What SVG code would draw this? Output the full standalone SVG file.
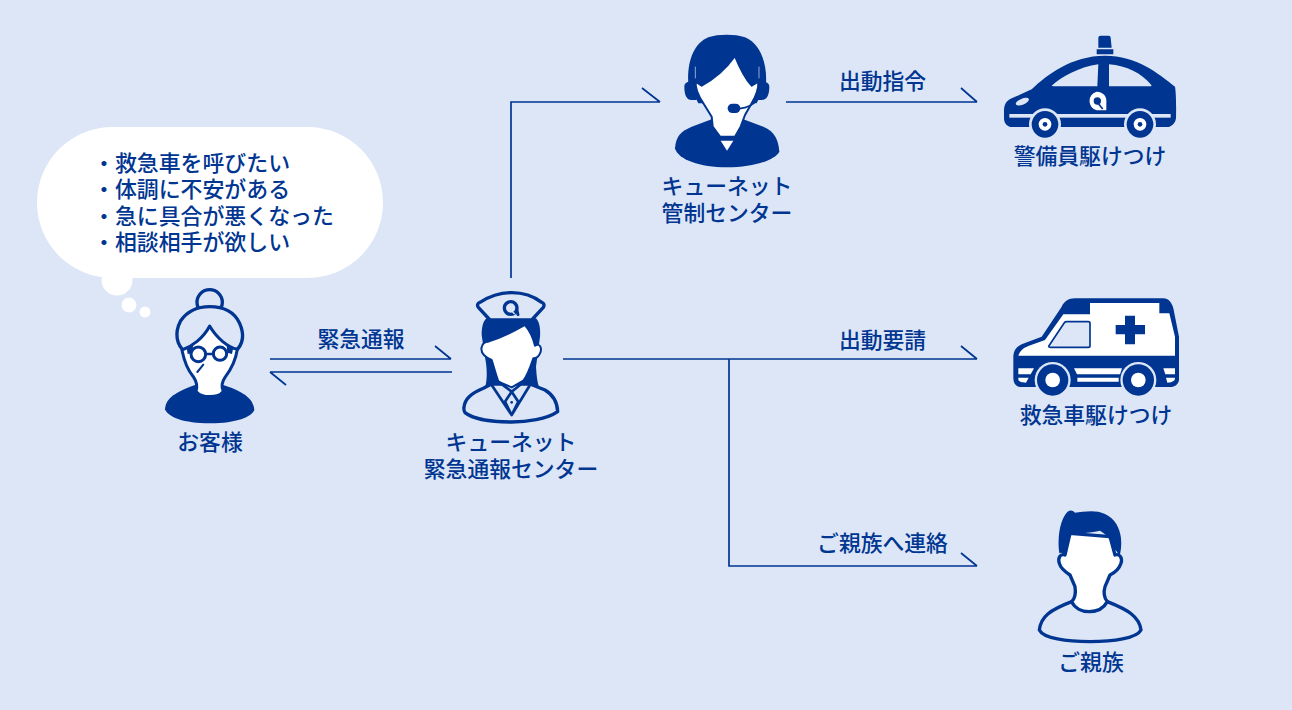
<svg xmlns="http://www.w3.org/2000/svg" width="1292" height="710" viewBox="0 0 1292 710">
<style>
text{font-family:"Noto Sans CJK JP","Noto Sans",sans-serif;font-size:21.8px;fill:#003591;font-weight:500}
.m{text-anchor:middle}
.c{fill:none;stroke:#003591;stroke-width:1.7}
.n{fill:#003591}
.w{fill:#fff}
.b{fill:#dce6f6}
.sn{stroke:#003591;stroke-linejoin:round;stroke-linecap:round}
.l{fill:none;stroke:#003591;stroke-linejoin:round;stroke-linecap:round}
</style>
<rect width="1292" height="710" fill="#dce6f6"/>
<g id="connectors">
<path class="c" d="M511 278V102H660M642 88L660 102"/>
<path class="c" d="M786 102H977M961 88L977 102"/>
<path class="c" d="M270 359H451M435 346L451 359"/>
<path class="c" d="M452 372H270M270 372L286 385"/>
<path class="c" d="M563 359H977M961 346L977 359"/>
<path class="c" d="M729 359V566H977M961 553L977 566"/>
</g>
<g id="bubble">
<rect x="37" y="127" width="346" height="151" rx="75.5" class="w"/>
<circle cx="117" cy="280" r="15.5" class="w"/>
<circle cx="129" cy="305" r="7.5" class="w"/>
<circle cx="145" cy="312" r="5.5" class="w"/>
<text style="font-size:21.9px"><tspan x="93" y="171">・救急車を呼びたい</tspan><tspan x="93" y="197">・体調に不安がある</tspan><tspan x="93" y="224">・急に具合が悪くなった</tspan><tspan x="93" y="250">・相談相手が欲しい</tspan></text>
</g>
<g id="customer">
<g transform="translate(20 270) scale(.33333)">
<path class="n" d="M435 418C437 390 455 370 525 345L610 345C680 368 700 390 703 420C695 440 650 460 570 460C490 460 445 442 435 418Z"/>
<circle cx="569" cy="97" r="38" class="l" style="fill:#dce6f6" stroke-width="10"/>
<path class="l" style="fill:#dce6f6" stroke-width="10" d="M495 245C470 225 462 190 482 152C505 120 535 110 569 110C605 110 640 122 658 158C675 195 668 225 645 245Z"/>
<path class="w sn" stroke-width="9" d="M486 240C490 260 495 290 520 320C530 335 533 350 528 364C545 385 595 385 610 364C603 350 606 335 615 322C640 290 648 265 652 238C625 232 590 205 569 168C550 205 515 230 486 240Z"/>
<path class="n" d="M500 232L520 226L515 250L503 252ZM620 224L640 232L636 252L622 248Z"/>
<circle cx="535" cy="253" r="22" class="w sn" stroke-width="9"/>
<circle cx="600" cy="251" r="20" class="w sn" stroke-width="9"/>
<path class="l" stroke-width="8" d="M557 252H580"/>
<path class="l" stroke-width="6" d="M550 284L532 306"/>
</g>
<text class="m" x="210" y="450">お客様</text>
</g>
<g id="center">
<g transform="translate(430 270) scale(.33333)">
<path class="l" style="fill:#dce6f6" stroke-width="10" d="M102 412C105 385 125 370 160 355L185 342H300L345 360C370 375 382 395 383 425C350 448 290 456 245 456C190 456 130 448 105 428C101 422 101 418 102 412Z"/>
<path class="n" d="M155 195C155 170 160 152 170 145H318C328 155 332 175 330 200L318 290C320 320 322 335 327 350L285 342H205L165 352C172 330 172 295 165 262Z"/>
<path class="w sn" stroke-width="6" d="M175 215C205 205 250 185 285 165C298 180 310 205 315 227C330 218 337 235 330 250C325 262 315 265 310 265C300 295 290 320 280 332L245 352L205 335C195 305 190 285 185 270C170 265 150 250 155 232C157 220 165 215 175 215Z"/>
<path class="l" stroke-width="8" d="M185 345L245 435L300 345M205 335L245 365L282 335M245 365L225 395L245 435L265 395Z"/>
<circle cx="245" cy="397" r="4" class="n"/>
<path class="l" style="fill:#dce6f6" stroke-width="10" d="M180 150L145 112C140 105 143 100 150 97C180 78 210 68 245 68C280 68 310 78 335 97C342 100 344 105 340 112L305 150Z"/>
<circle cx="242" cy="114" r="19" class="l" style="fill:#dce6f6" stroke-width="10"/>
<path class="l" stroke-width="9" d="M260 118L264 134"/>
<path stroke="#dce6f6" stroke-width="4" d="M240 118L254 132" fill="none"/>
</g>
<text class="m" x="511" y="450">キューネット</text>
<text class="m" x="511" y="477">緊急通報センター</text>
</g>
<g id="control">
<g transform="translate(650 20) scale(.33333)">
<path class="n" d="M75 385C78 350 90 335 125 320L185 298H280L340 320C375 335 385 360 388 395C375 420 310 442 230 442C150 442 85 420 75 385Z"/>
<path class="n" d="M115 190C110 130 130 70 175 52C205 42 255 42 285 52C330 70 352 130 348 190L320 250H145Z"/>
<path class="n" d="M103 200C103 190 110 185 120 185L135 185L140 240H125C110 240 103 225 103 200ZM358 200C358 190 350 185 340 185H325L320 240H335C350 240 358 225 358 200Z"/>
<path fill="none" stroke="#dce6f6" stroke-width="2" d="M136 140V175M327 140V175"/>
<path class="w" stroke="#003591" stroke-width="6" stroke-linejoin="round" d="M137 185L155 197C190 178 225 150 255 108C268 140 285 175 305 197L325 185C326 205 320 225 305 250L285 285L272 320L255 350H210L188 320L185 290L160 250C148 232 135 205 137 185Z"/>
<path class="w" d="M212 362H250L231 392Z"/>
<path class="l" stroke-width="5" d="M268 266C290 264 310 255 322 238"/>
<rect x="233" y="251" width="38" height="28" rx="14" class="n"/>
</g>
<text class="m" x="727" y="194">キューネット</text>
<text class="m" x="727" y="221">管制センター</text>
</g>
<g id="guard">
<g transform="translate(990 25) scale(.33333)">
<path class="n" d="M325 68L325 38Q325 32 332 32H356Q362 32 362 38L365 68ZM320 73H370V88H320Z"/>
<path class="n" d="M42 258C42 240 48 228 65 220L125 193C170 150 245 92 345 92C440 92 505 145 555 185C558 200 559 240 558 280C556 295 545 305 535 306H120L60 306C48 302 42 292 42 280Z"/>
<path class="b" d="M185 182C215 155 270 125 325 118L322 184H190ZM357 118C410 122 455 145 484 180V184H357Z"/>
<ellipse cx="97" cy="230" rx="21" ry="9" transform="rotate(-22 97 230)" class="b"/>
<rect x="58" y="267" width="484" height="11" class="b"/>
<circle cx="165" cy="298" r="48" class="b"/>
<circle cx="450" cy="298" r="48" class="b"/>
<circle cx="165" cy="298" r="40" class="n"/>
<circle cx="450" cy="298" r="40" class="n"/>
<circle cx="165" cy="298" r="19" class="w"/>
<circle cx="450" cy="298" r="19" class="w"/>
<circle cx="165" cy="298" r="7" class="n"/>
<circle cx="450" cy="298" r="7" class="n"/>
<path class="w" d="M320 200A29 29 0 0 0 320 256H349V235C352 215 340 200 320 200Z"/>
<circle cx="322" cy="228" r="11" class="n"/>
<path stroke="#003591" stroke-width="5" d="M322 232L338 252" fill="none"/>
</g>
<text class="m" x="1090" y="164">警備員駆けつけ</text>
</g>
<g id="ambulance">
<g transform="translate(1000 285) scale(.33333)">
<path class="n" d="M40 212C42 195 50 185 65 178L125 155L185 65C192 50 205 40 225 40H490C505 40 515 52 520 70L537 155V285C535 298 525 306 510 306H60C48 304 40 295 40 280Z"/>
<path class="w" d="M55 212C60 198 68 190 85 183L135 165L190 88H270V54H478V85H508L525 155V212Z"/>
<path d="M147 182L193 113C195 110 197 110 200 110H265C269 110 270 112 270 115V182C270 186 269 187 265 187H151C146 187 145 185 147 182Z" class="b" stroke="#003591" stroke-width="5"/>
<path class="n" d="M375 92H405V120H435V148H405V178H375V148H347V120H375Z"/>
<path class="w" d="M55 250H102L92 268H55ZM55 278H86L78 293C65 293 55 290 55 282ZM222 250H366L360 268H231ZM232 278H356V290H232ZM490 250H525V268H496ZM498 278H525V282C522 290 512 293 502 293Z"/>
<circle cx="158" cy="285" r="54" class="b"/>
<circle cx="415" cy="285" r="54" class="b"/>
<circle cx="158" cy="285" r="47" class="n"/>
<circle cx="415" cy="285" r="47" class="n"/>
<circle cx="158" cy="285" r="22" class="w"/>
<circle cx="415" cy="285" r="22" class="w"/>
</g>
<text class="m" x="1096" y="423">救急車駆けつけ</text>
</g>
<g id="family">
<g transform="translate(1020 500) scale(.33333)">
<path class="l" style="fill:#dce6f6" stroke-width="10" d="M58 390C62 350 90 330 155 305H262C325 330 358 350 363 390C350 415 280 425 210 425C140 425 70 415 58 390Z"/>
<path class="w sn" stroke-width="10" d="M135 165C120 160 113 175 118 190C122 205 135 215 150 225L165 260C168 280 165 295 155 305C175 345 240 345 262 305C252 295 250 275 255 260L270 225C285 218 298 205 303 190C308 175 300 160 285 165L270 110L150 100Z"/>
<path class="n" d="M118 160C112 120 118 70 135 45C145 30 155 28 165 38C190 36 225 28 255 42C285 55 300 85 303 115C305 135 303 155 298 170C292 155 285 145 280 150C278 130 270 110 240 92C210 100 180 100 150 98C145 125 140 145 135 170C130 160 124 155 118 160Z"/>
</g>
<text class="m" x="1091" y="670">ご親族</text>
</g>
<g id="labels">
<text class="m" x="361" y="347">緊急通報</text>
<text class="m" x="882.500" y="89">出動指令</text>
<text class="m" x="882.500" y="348">出動要請</text>
<text class="m" x="882.500" y="551">ご親族へ連絡</text>
</g>
</svg>
